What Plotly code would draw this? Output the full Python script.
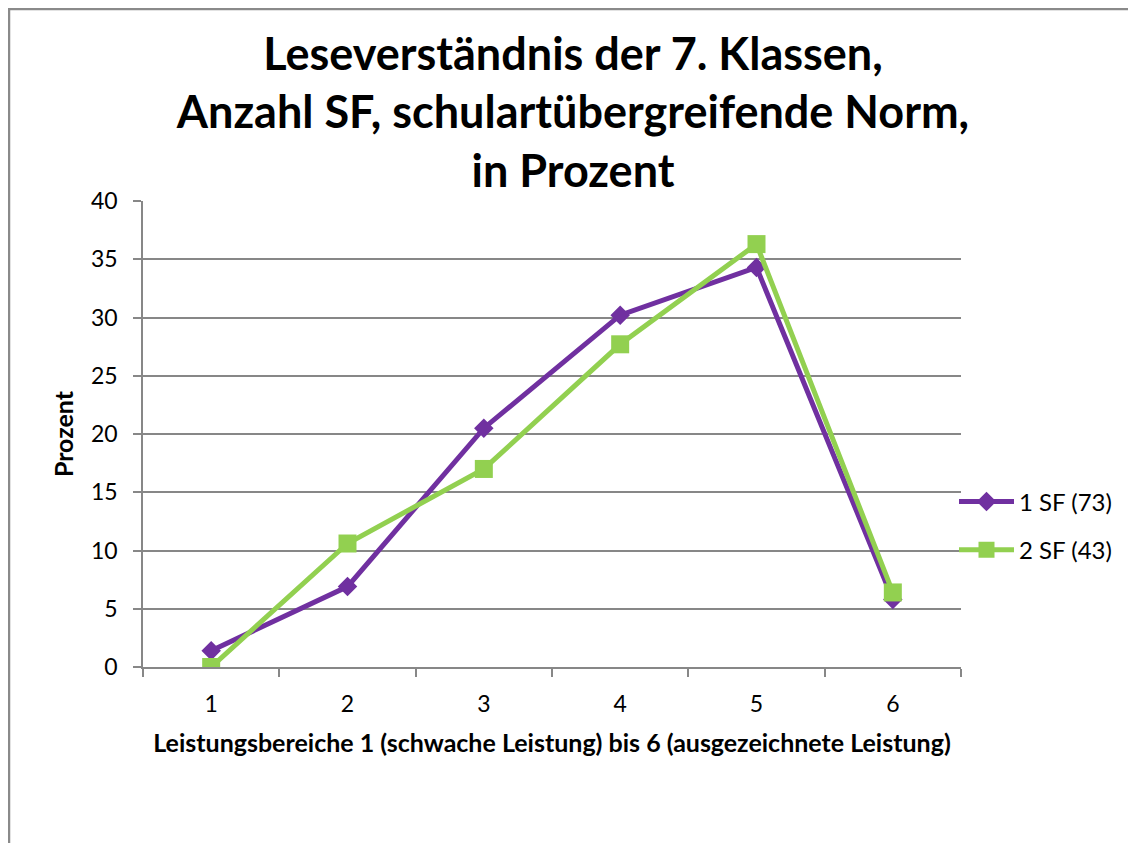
import plotly.graph_objects as go

categories = ["1", "2", "3", "4", "5", "6"]
sf1_values = [1.4, 6.9, 20.5, 30.2, 34.3, 5.8]
sf2_values = [0.0, 10.6, 17.0, 27.7, 36.3, 6.4]
series_names = ["1 SF (73)", "2 SF (43)"]
y_ticks = [0, 5, 10, 15, 20, 25, 30, 35, 40]

PURPLE = "#7030A0"
GREEN = "#92D050"
GRID = "#878787"
FONT = "Lato"

# figure is placed 8px into the page by the browser's default body margin
W, H = 1128, 835
L, R, T, B = 135, 953, 193, 659

fig = go.Figure()
fig.add_trace(go.Scatter(
    x=categories, y=sf1_values, name=series_names[0], mode="lines+markers",
    line=dict(color=PURPLE, width=5),
    marker=dict(symbol="diamond", size=15, color=PURPLE),
    legendgroup="a",
))
fig.add_trace(go.Scatter(
    x=categories, y=sf2_values, name=series_names[1], mode="lines+markers",
    line=dict(color=GREEN, width=5),
    marker=dict(symbol="square", size=18, color=GREEN),
    legendgroup="b",
))

fig.update_layout(
    width=W, height=H,
    margin=dict(l=L, r=W - R, t=T, b=H - B, pad=0),
    paper_bgcolor="white", plot_bgcolor="white",
    font=dict(family=FONT, size=23, color="black"),
    title=dict(
        text="<b>Leseverständnis der 7. Klassen,<br>Anzahl SF, schulartübergreifende Norm,<br>in Prozent</b>",
        x=565 / W, xanchor="center", xref="container",
        y=1 - 61.6 / H, yanchor="top", yref="container",
        font=dict(family=FONT, size=45, color="black"),
    ),
    xaxis=dict(
        type="category", range=[-0.5, 5.5],
        tickson="boundaries", ticks="outside", ticklen=8, tickcolor=GRID, tickwidth=1.5,
        showline=True, linecolor=GRID, linewidth=1.5,
        showgrid=False, zeroline=False,
        tickfont=dict(size=23), ticklabelstandoff=16,
        title=dict(text="<b>Leistungsbereiche 1 (schwache Leistung) bis 6 (ausgezeichnete Leistung)</b>",
                   font=dict(size=25), standoff=18),
    ),
    yaxis=dict(
        range=[0, 40], tickvals=y_ticks, ticktext=[str(v) for v in y_ticks],
        ticks="outside", ticklen=8, tickcolor=GRID, tickwidth=1.5,
        showline=True, linecolor=GRID, linewidth=1.5,
        showgrid=True, gridcolor=GRID, gridwidth=1.5, zeroline=False,
        tickfont=dict(size=23), ticklabelstandoff=11,
        title=dict(text="<b>Prozent</b>", font=dict(size=25), standoff=10),
    ),
    legend=dict(
        x=1 - 7 / (R - L), xanchor="left", y=(B - 518) / (B - T), yanchor="middle",
        font=dict(size=24), itemwidth=55, traceorder="grouped", tracegroupgap=14,
        bgcolor="rgba(0,0,0,0)",
    ),
    showlegend=True,
)

fig.add_shape(
    type="rect", xref="paper", yref="paper",
    x0=(1 - L) / (R - L), x1=(W + 20 - L) / (R - L),
    y0=(B - (H + 20)) / (B - T), y1=(B - 1) / (B - T),
    line=dict(color="#8a8a8a", width=2.5), fillcolor="rgba(0,0,0,0)", layer="below",
)

fig.write_html("out.html")
